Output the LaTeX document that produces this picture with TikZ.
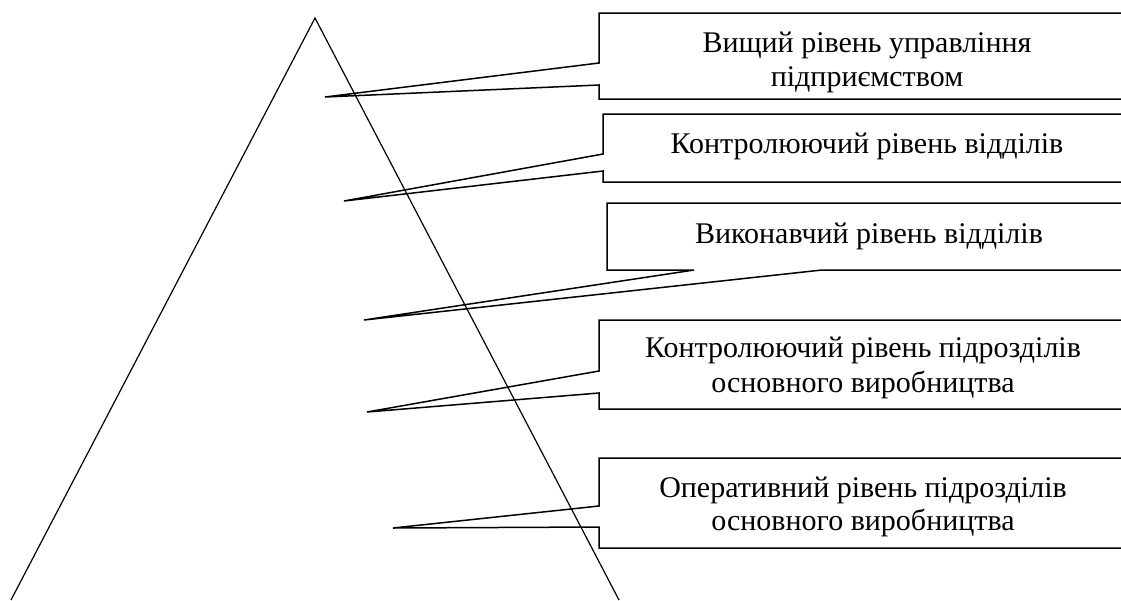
\documentclass[tikz,border=0pt]{standalone}
\usepackage{fontspec}
\setmainfont{Liberation Serif}
\begin{document}
\begin{tikzpicture}[x=1pt,y=-1pt,line join=miter,
  box/.style={line width=1.5pt},
  tri/.style={line width=1.2pt},
  lbl/.style={inner sep=0pt,anchor=base,font=\fontsize{30}{35}\selectfont}]
\useasboundingbox (0,0) rectangle (1121,600);
\fill[white] (0,0) rectangle (1121,600);
% pyramid
\coordinate (apex) at (315,18);
\coordinate (bl) at (11,600);
\coordinate (br) at (619,600);
\draw[tri] (bl) -- (apex) -- (br);
% callout tips
\coordinate (t1) at (325,97);
\coordinate (t2) at (344,201);
\coordinate (t3) at (364,320);
\coordinate (t4) at (367,412);
\coordinate (t5) at (393,528);
% callout 1
\draw[box] (1121,13) -- (599,13) -- (599,63) -- (t1) -- (599,85) -- (599,99) -- (1121,99);
% callout 2
\draw[box] (1121,114) -- (603,114) -- (603,154) -- (t2) -- (603,171) -- (603,182) -- (1121,182);
% callout 3
\draw[box] (1121,203) -- (607,203) -- (607,270) -- (694,270) -- (t3) -- (822,270) -- (1121,270);
% callout 4
\draw[box] (1121,320) -- (599,320) -- (599,371) -- (t4) -- (599,393) -- (599,409) -- (1121,409);
% callout 5
\draw[box] (1121,458) -- (599,458) -- (599,506) -- (t5) -- (599,527) -- (599,548) -- (1121,548);
% labels
\node[lbl] (l1a) at (867,52) {Вищий рівень управління};
\node[lbl] (l1b) at (867,86) {підприємством};
\node[lbl] (l2) at (867,153) {Контролюючий рівень відділів};
\node[lbl] (l3) at (869,243) {Виконавчий рівень відділів};
\node[lbl] (l4a) at (863,357) {Контролюючий рівень підрозділів};
\node[lbl] (l4b) at (863,392) {основного виробництва};
\node[lbl] (l5a) at (863,497) {Оперативний рівень підрозділів};
\node[lbl] (l5b) at (863,530) {основного виробництва};
\end{tikzpicture}
\end{document}
